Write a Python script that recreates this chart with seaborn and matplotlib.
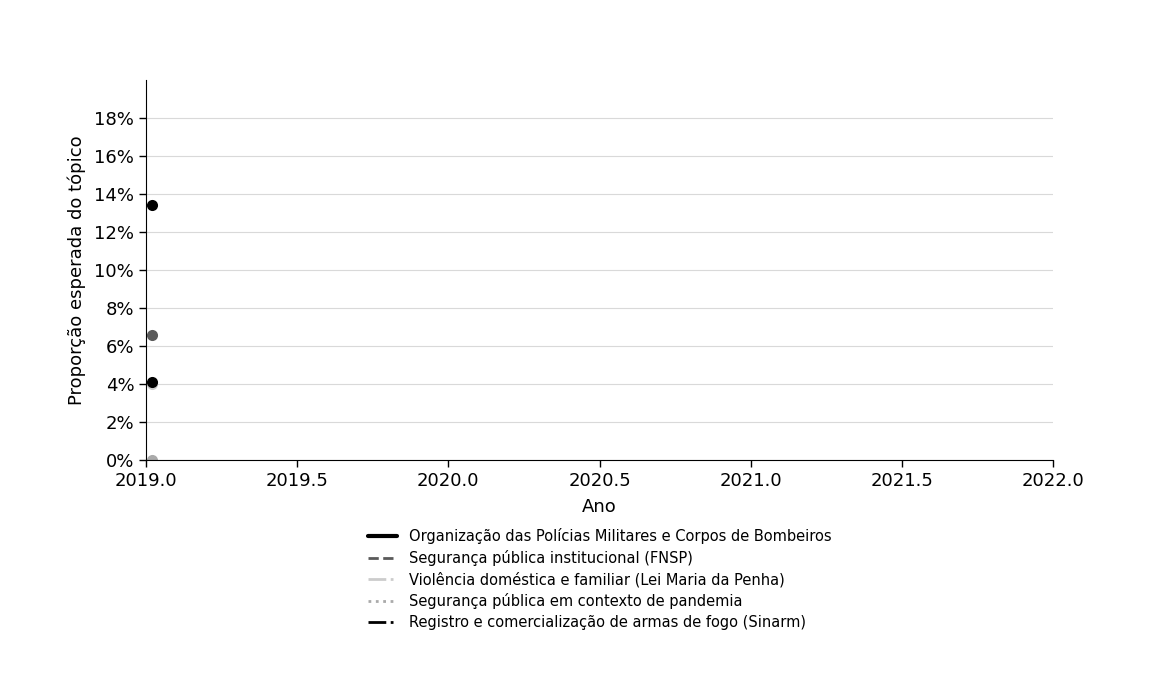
import matplotlib
matplotlib.use("Agg")
import matplotlib.pyplot as plt
from matplotlib.lines import Line2D
from matplotlib.ticker import PercentFormatter, MultipleLocator
import seaborn as sns
import pandas as pd

# data
topics = [
    "Organização das Polícias Militares e Corpos de Bombeiros",
    "Segurança pública institucional (FNSP)",
    "Violência doméstica e familiar (Lei Maria da Penha)",
    "Segurança pública em contexto de pandemia",
    "Registro e comercialização de armas de fogo (Sinarm)",
]
years = [2019.02]
proportions = [
    [0.134],
    [0.066],
    [0.040],
    [0.000],
    [0.041],
]

colors = ["#000000", "#5a5a5a", "#cccccc", "#aaaaaa", "#000000"]
styles = ["-", "--", "-.", ":", "-."]
widths = [3, 2, 2, 2, 2]

sns.set_style("white")
plt.rcParams.update({
    "text.color": "black",
    "axes.labelcolor": "black",
    "xtick.color": "black",
    "ytick.color": "black",
    "font.family": ["DejaVu Sans"],
})
fig = plt.figure(figsize=(11.7, 6.76), dpi=100)
ax = fig.add_axes([0.1248, 0.3195, 0.7752, 0.5622])

handles = []
for topic, vals, c, ls, lw in zip(topics, proportions, colors, styles, widths):
    df = pd.DataFrame({"Ano": years, "prop": vals})
    sns.lineplot(data=df, x="Ano", y="prop", color=c, linestyle=ls, linewidth=lw,
                 marker="o", markersize=8, markeredgewidth=0, ax=ax, legend=False)
    handles.append(Line2D([0], [0], color=c, linestyle=ls, linewidth=lw, label=topic))

ax.set_xlim(2019.0, 2022.0)
ax.set_ylim(0, 0.20)
ax.xaxis.set_major_locator(MultipleLocator(0.5))
ax.set_yticks([i / 100 for i in range(0, 19, 2)])
ax.yaxis.set_major_formatter(PercentFormatter(1.0, decimals=0))
ax.grid(axis="y", color="#d9d9d9", linewidth=0.8)
ax.set_axisbelow(True)
for s in ["top", "right"]:
    ax.spines[s].set_visible(False)
for s in ["left", "bottom"]:
    ax.spines[s].set_color("black")
ax.tick_params(axis="both", which="major", labelsize=13, length=5, width=1,
               color="black", bottom=True, left=True)
ax.set_xlabel("Ano", fontsize=13, labelpad=6)
ax.set_ylabel("Proporção esperada do tópico", fontsize=13, labelpad=6)

ax.legend(handles=handles, loc="upper center", bbox_to_anchor=(0.5, -0.145),
          frameon=False, fontsize=10.5, ncol=1, handlelength=2, labelspacing=0.4)

fig.savefig("out.png", dpi=100)
